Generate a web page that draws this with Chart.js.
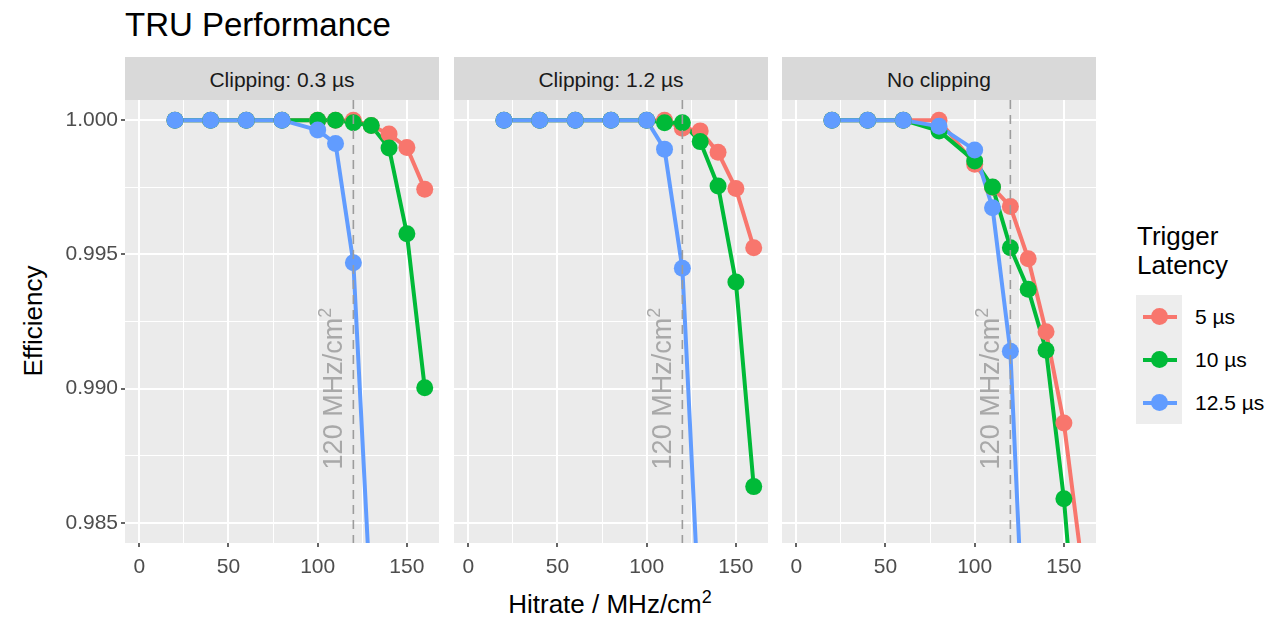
<!DOCTYPE html>
<html>
<head>
<meta charset="utf-8">
<script src="https://cdn.jsdelivr.net/npm/chart.js@4.4.1/dist/chart.umd.min.js"></script>
<style>
  body { margin: 0; width: 1281px; height: 619px; background: #fff; position: relative; overflow: hidden;
         font-family: "Liberation Sans", Arial, sans-serif; }
  #title { position: absolute; left: 125px; top: 8px; font-size: 33px; line-height: 33px; color: #000; }
  .strip { position: absolute; top: 57px; height: 43px; width: 314px; background: #d9d9d9; color: #1a1a1a;
           font-size: 21px; line-height: 46px; text-align: center; overflow: hidden; }
  canvas.panel { position: absolute; top: 100px; }
  #ylab { position: absolute; left: 33px; top: 321px; font-size: 26px; color: #000;
          transform: translate(-50%, -50%) rotate(-90deg); white-space: nowrap; }
  #xlab { position: absolute; left: 0; width: 1220px; top: 589px; font-size: 26px; line-height: 30px;
          text-align: center; color: #000; }
  #xlab span { position: relative; top: -10px; font-size: 18px; }
  #legend { position: absolute; left: 1137px; top: 222px; }
  #legend .ttl { font-size: 26px; line-height: 28.5px; color: #000; }
  .key { position: absolute; left: -1px; width: 46px; height: 43px; background: #ededed; }
  .key .ln { position: absolute; left: 7px; width: 34px; top: 19.5px; height: 4px; }
  .key .pt { position: absolute; left: 14.5px; top: 13px; width: 17px; height: 17px; border-radius: 50%; }
  .klab { position: absolute; left: 58px; font-size: 21px; line-height: 43px; color: #000; white-space: nowrap; }
</style>
</head>
<body>
<div id="title">TRU Performance</div>
<div id="ylab">Efficiency</div>
<div id="xlab">Hitrate / MHz/cm<span>2</span></div>
<div id="legend"><div class="ttl">Trigger<br>Latency</div></div>

<script>
// facets
const panels = ['Clipping: 0.3 µs', 'Clipping: 1.2 µs', 'No clipping'];
const latencies = ['5 µs', '10 µs', '12.5 µs'];
const colors = ['#F8766D', '#00BA38', '#619CFF'];

// hitrate in MHz/cm2
const hitrate = [20, 40, 60, 80, 100, 110, 120, 130, 140, 150, 160];

// efficiency, clipping 0.3 us
const clip03_5 = [1, 1, 1, 1, 1, 1, 1, 0.9998, 0.99948, 0.99898, 0.99743];
const clip03_10 = [1, 1, 1, 1, 1, 1, 0.9999, 0.9998, 0.99896, 0.99577, 0.99003];
const clip03_12 = [1, 1, 1, 1, 0.99963, 0.99913, 0.99469, 0.9817];

// efficiency, clipping 1.2 us
const clip12_5 = [1, 1, 1, 1, 1, 1, 0.9997, 0.9996, 0.9988, 0.99745, 0.99525];
const clip12_10 = [1, 1, 1, 1, 1, 0.9999, 0.9999, 0.9992, 0.99755, 0.99397, 0.98635];
const clip12_12 = [1, 1, 1, 1, 1, 0.99892, 0.99448, 0.98084];

// efficiency, no clipping
const noclip_5 = [1, 1, 1, 1, 0.99836, 0.9975, 0.99678, 0.99484, 0.99212, 0.98872, 0.9835];
const noclip_10 = [1, 1, 1, 0.9996, 0.99848, 0.99751, 0.99525, 0.9937, 0.99143, 0.9859, 0.978];
const noclip_12 = [1, 1, 1, 0.99977, 0.99889, 0.99674, 0.99139, 0.9768];

const series = [
  [clip03_5, clip03_10, clip03_12],
  [clip12_5, clip12_10, clip12_12],
  [noclip_5, noclip_10, noclip_12]
];

// axes
const xTicks = [0, 25, 50, 75, 100, 125, 150];
const xLabeled = [0, 50, 100, 150];
const yTicks = [0.985, 0.9875, 0.99, 0.9925, 0.995, 0.9975, 1.0];
const yLabeled = [0.985, 0.99, 0.995, 1.0];
const xRange = [-8, 168];
const yRange = [0.98425, 1.00075];

// reference line
const refRate = 120;
const refLabelY = 0.990;
const refLabel = '120 MHz/cm';

const FONT = '"Liberation Sans", Arial, sans-serif';

const panelBg = {
  id: 'panelBg',
  beforeDraw(chart) {
    const { ctx, chartArea: a } = chart;
    ctx.save();
    ctx.fillStyle = '#ebebeb';
    ctx.fillRect(a.left, a.top, a.right - a.left, a.bottom - a.top);
    ctx.restore();
  }
};

const refLine = {
  id: 'refLine',
  afterDatasetsDraw(chart) {
    const { ctx, chartArea: a, scales: { x, y } } = chart;
    const px = x.getPixelForValue(refRate);
    ctx.save();
    ctx.beginPath();
    ctx.rect(a.left, a.top, a.right - a.left, a.bottom - a.top);
    ctx.clip();
    ctx.strokeStyle = '#9c9c9c';
    ctx.lineWidth = 1.6;
    ctx.setLineDash([9, 6]);
    ctx.beginPath();
    ctx.moveTo(px, a.top);
    ctx.lineTo(px, a.bottom);
    ctx.stroke();
    ctx.setLineDash([]);
    ctx.translate(px - 11, y.getPixelForValue(refLabelY));
    ctx.rotate(-Math.PI / 2);
    ctx.fillStyle = '#a8a8a8';
    ctx.textBaseline = 'alphabetic';
    ctx.font = '27px ' + FONT;
    const wm = ctx.measureText(refLabel).width;
    ctx.font = '18px ' + FONT;
    const ws = ctx.measureText('2').width;
    const sx = -(wm + ws) / 2;
    ctx.font = '27px ' + FONT;
    ctx.fillText(refLabel, sx, 0);
    ctx.font = '18px ' + FONT;
    ctx.fillText('2', sx + wm, -11);
    ctx.restore();
  }
};

// no auto padding from tick labels: panels are placed by hand
const noPad = s => { s.paddingTop = 0; s.paddingBottom = 0; s.paddingLeft = 0; s.paddingRight = 0; };

const stripLefts = [125, 454, 782];
const canvasLefts = [0, 454, 782];
const canvasWidths = [439, 314, 314];

panels.forEach((name, p) => {
  const strip = document.createElement('div');
  strip.className = 'strip';
  strip.style.left = stripLefts[p] + 'px';
  strip.textContent = name;
  document.body.appendChild(strip);

  const cv = document.createElement('canvas');
  cv.className = 'panel';
  cv.width = canvasWidths[p];
  cv.height = 480;
  cv.style.left = canvasLefts[p] + 'px';
  cv.style.width = canvasWidths[p] + 'px';
  cv.style.height = '480px';
  document.body.appendChild(cv);

  // ggplot order: all lines first, then all points; later groups on top
  const datasets = [];
  series[p].forEach((vals, s) => {
    const pts = vals.map((v, i) => ({ x: hitrate[i], y: v }));
    datasets.push({
      label: latencies[s], data: pts, borderColor: colors[s], borderWidth: 4,
      pointRadius: 0, pointHoverRadius: 0, order: 5 - s, clip: 0, tension: 0
    });
    datasets.push({
      label: latencies[s], data: pts, showLine: false, backgroundColor: colors[s],
      borderWidth: 0, pointRadius: 8.5, pointHoverRadius: 8.5, order: 2 - s, clip: 0
    });
  });

  new Chart(cv.getContext('2d'), {
    type: 'line',
    data: { datasets },
    options: {
      responsive: false,
      animation: false,
      events: [],
      layout: { padding: 0, autoPadding: false },
      plugins: { legend: { display: false }, tooltip: { enabled: false } },
      scales: {
        x: {
          type: 'linear',
          min: xRange[0], max: xRange[1],
          afterBuildTicks: s => { s.ticks = xTicks.map(v => ({ value: v })); },
          afterFit: s => { s.height = 37; noPad(s); },
          border: { display: false },
          grid: {
            color: '#ffffff',
            lineWidth: c => xLabeled.includes(c.tick.value) ? 2 : 1,
            tickColor: c => xLabeled.includes(c.tick.value) ? '#333333' : 'rgba(0,0,0,0)',
            tickLength: 4,
            tickWidth: 1.5
          },
          ticks: {
            padding: 8,
            maxRotation: 0,
            autoSkip: false,
            color: '#4d4d4d',
            font: { family: FONT, size: 21 },
            callback: v => xLabeled.includes(v) ? String(v) : ''
          }
        },
        y: {
          type: 'linear',
          min: yRange[0], max: yRange[1],
          afterBuildTicks: s => { s.ticks = yTicks.map(v => ({ value: v })); },
          afterFit: s => { s.width = p === 0 ? 125 : 0; noPad(s); },
          border: { display: false },
          grid: {
            color: '#ffffff',
            lineWidth: c => yLabeled.includes(c.tick.value) ? 2 : 1,
            drawTicks: p === 0,
            tickColor: c => yLabeled.includes(c.tick.value) ? '#333333' : 'rgba(0,0,0,0)',
            tickLength: 4,
            tickWidth: 1.5
          },
          ticks: {
            display: p === 0,
            padding: 3,
            autoSkip: false,
            color: '#4d4d4d',
            font: { family: FONT, size: 21 },
            callback: v => yLabeled.includes(v) ? v.toFixed(3) : ''
          }
        }
      }
    },
    plugins: [panelBg, refLine]
  });
});

// legend keys
const legend = document.getElementById('legend');
latencies.forEach((lab, s) => {
  const top = 73 + s * 43;
  const key = document.createElement('div');
  key.className = 'key';
  key.style.top = top + 'px';
  key.innerHTML = '<div class="ln" style="background:' + colors[s] + '"></div>' +
                  '<div class="pt" style="background:' + colors[s] + '"></div>';
  legend.appendChild(key);
  const t = document.createElement('div');
  t.className = 'klab';
  t.style.top = top + 'px';
  t.textContent = lab;
  legend.appendChild(t);
});
</script>
</body>
</html>
